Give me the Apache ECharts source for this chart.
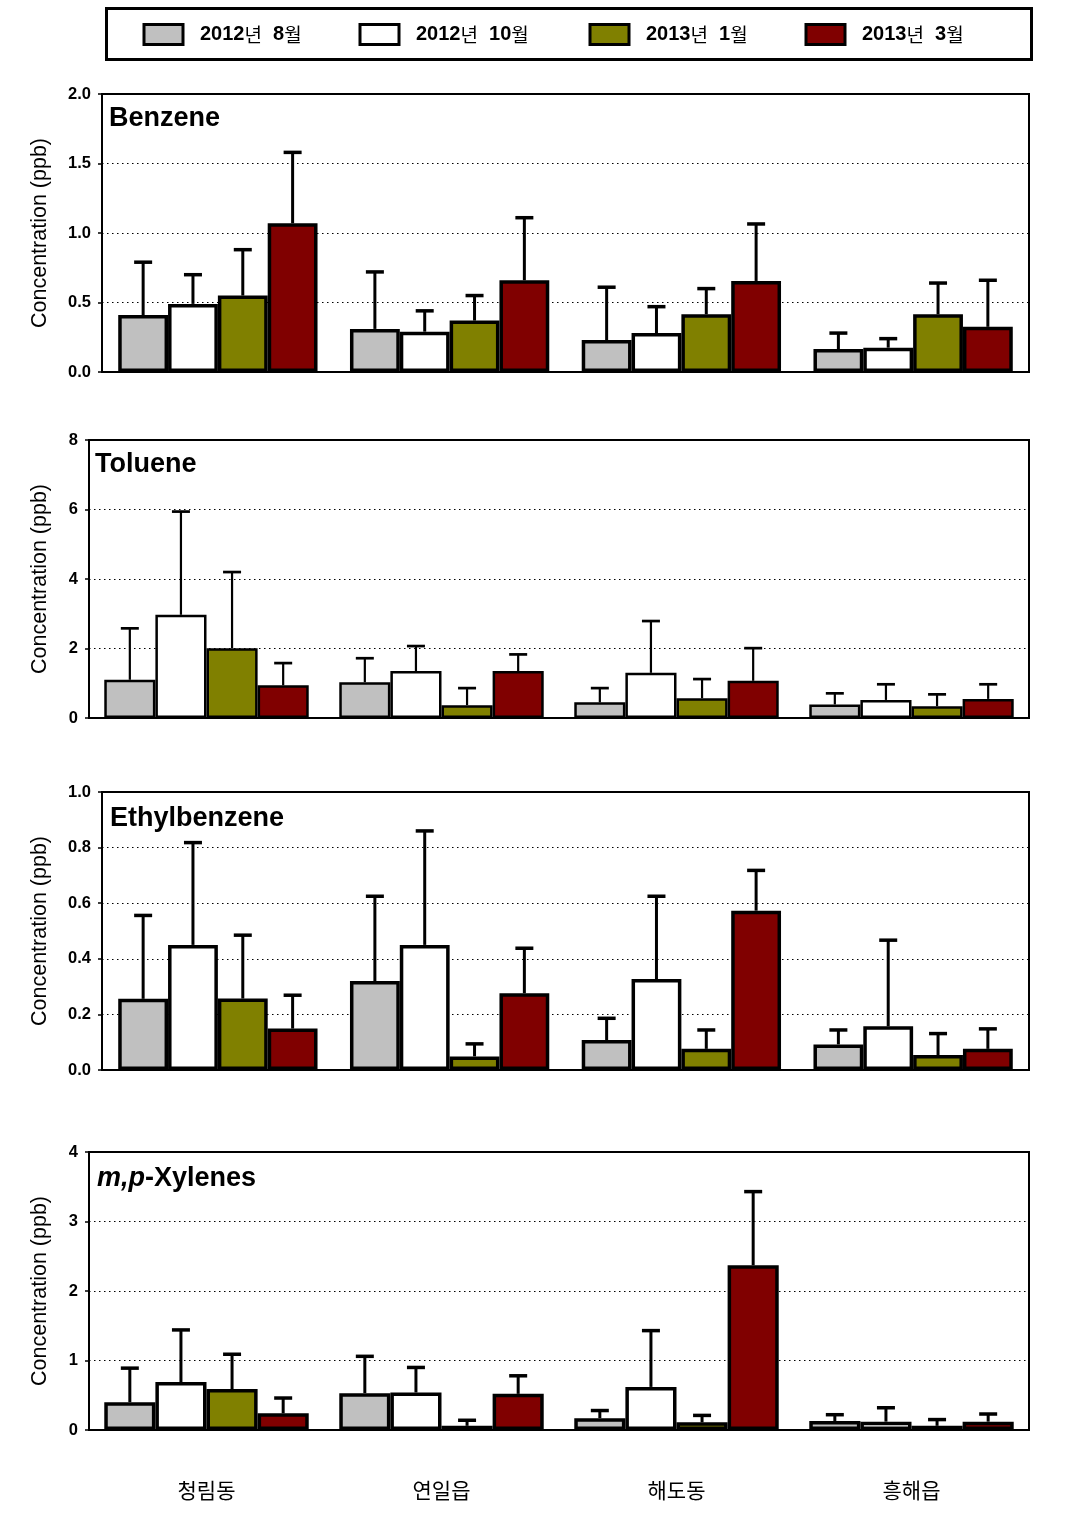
<!DOCTYPE html>
<html>
<head>
<meta charset="utf-8">
<script src="https://cdn.jsdelivr.net/npm/echarts@6/dist/echarts.min.js"></script>
<style>
html,body{margin:0;padding:0;background:#fff;}
#chart{width:1072px;height:1528px;}
</style>
</head>
<body>
<div id="chart"></div>
<script>
// ---------- data ----------
const categories = ['청림동', '연일읍', '해도동', '흥해읍'];
const periods = ['2012년 8월', '2012년 10월', '2013년 1월', '2013년 3월'];
const periodColors = ['#C0C0C0', '#FFFFFF', '#808000', '#800000'];

const panelNames = ['Benzene', 'Toluene', 'Ethylbenzene', 'm,p-Xylenes'];

// means, one array per period (order: 청림동, 연일읍, 해도동, 흥해읍)
const benzeneMean = [
  [0.41, 0.31, 0.23, 0.165],
  [0.49, 0.29, 0.28, 0.175],
  [0.55, 0.37, 0.415, 0.415],
  [1.07, 0.66, 0.655, 0.325]
];
const benzeneUpper = [
  [0.79, 0.72, 0.61, 0.28],
  [0.70, 0.44, 0.47, 0.24],
  [0.88, 0.55, 0.60, 0.64],
  [1.58, 1.11, 1.065, 0.66]
];
const tolueneMean = [
  [1.10, 1.03, 0.45, 0.39],
  [2.97, 1.35, 1.30, 0.52],
  [2.01, 0.37, 0.57, 0.34],
  [0.94, 1.35, 1.07, 0.55]
];
const tolueneUpper = [
  [2.58, 1.72, 0.86, 0.71],
  [5.94, 2.07, 2.79, 0.97],
  [4.20, 0.86, 1.12, 0.68],
  [1.58, 1.83, 2.01, 0.97]
];
const ethylMean = [
  [0.256, 0.32, 0.108, 0.092],
  [0.45, 0.45, 0.327, 0.157],
  [0.257, 0.049, 0.076, 0.054],
  [0.149, 0.276, 0.573, 0.076]
];
const ethylUpper = [
  [0.556, 0.625, 0.186, 0.144],
  [0.818, 0.86, 0.625, 0.467],
  [0.485, 0.094, 0.144, 0.131],
  [0.269, 0.438, 0.718, 0.148]
];
const xyleneMean = [
  [0.40, 0.53, 0.17, 0.13],
  [0.69, 0.54, 0.62, 0.12],
  [0.59, 0.06, 0.11, 0.06],
  [0.24, 0.52, 2.37, 0.12]
];
const xyleneUpper = [
  [0.89, 1.06, 0.28, 0.22],
  [1.44, 0.90, 1.43, 0.32],
  [1.09, 0.14, 0.21, 0.15],
  [0.46, 0.78, 3.43, 0.23]
];

const yMax = [2, 8, 1, 4];
const yInterval = [0.5, 2, 0.2, 1];
const yDecimals = [1, 0, 1, 0];

// ---------- layout / style ----------
const panelMeans = [benzeneMean, tolueneMean, ethylMean, xyleneMean];
const panelUppers = [benzeneUpper, tolueneUpper, ethylUpper, xyleneUpper];
const gridLeft = [102, 89, 102, 89];
const gridTop = [94, 440, 792, 1152];
const gapPct = [14, 13, 14, 13];
const barBorder = [3.5, 2.5, 3.5, 3.5];
const errWidth = [3, 2.2, 3, 3];
const nameGap = [51, 38, 51, 38];
const titlePos = [[109, 105], [95, 451], [110, 805], [97, 1165]];
const legendLeft = [142.5, 358.5, 588.5, 804.5];

const FONT = "'Liberation Sans', Arial, 'Noto Sans CJK KR', sans-serif";
const KFONT = "'Noto Sans CJK KR', sans-serif";

const grids = [], xAxes = [], yAxes = [], series = [], titles = [];

for (let p = 0; p < 4; p++) {
  grids.push({
    left: gridLeft[p], top: gridTop[p], right: 43, height: 278,
    show: true, borderColor: '#000', borderWidth: 2, backgroundColor: 'transparent'
  });
  xAxes.push({
    type: 'category', gridIndex: p, data: categories,
    axisLine: { show: true, lineStyle: { color: '#000', width: 2 } },
    axisTick: { show: false },
    axisLabel: p === 3 ? {
      show: true, margin: 50, color: '#000', fontSize: 21, fontFamily: KFONT
    } : { show: false },
    splitLine: { show: false }
  });
  yAxes.push({
    type: 'value', gridIndex: p, min: 0, max: yMax[p], interval: yInterval[p],
    name: 'Concentration (ppb)', nameLocation: 'middle', nameGap: nameGap[p],
    nameTextStyle: { fontSize: 21.5, fontFamily: FONT, color: '#000' },
    axisLine: { show: true, lineStyle: { color: '#000', width: 2 } },
    axisTick: { show: true, inside: false, length: 4, lineStyle: { color: '#000', width: 1.5 } },
    axisLabel: {
      margin: 11, color: '#000', fontSize: 16.5, fontWeight: 'bold', fontFamily: FONT,
      formatter: (v) => v.toFixed(yDecimals[p])
    },
    splitLine: { show: true, lineStyle: { color: '#000', width: 1, type: [1.5, 3.5] } }
  });
  for (let s = 0; s < 4; s++) {
    series.push({
      type: 'bar', name: periods[s], xAxisIndex: p, yAxisIndex: p,
      data: panelMeans[p][s],
      barGap: '0%', barCategoryGap: gapPct[p] + '%',
      itemStyle: { color: periodColors[s], borderColor: '#000', borderWidth: barBorder[p] },
      emphasis: { disabled: true },
      z: 2
    });
  }
  for (let s = 0; s < 4; s++) {
    const gap = gapPct[p];
    const lw = errWidth[p];
    series.push({
      type: 'custom', xAxisIndex: p, yAxisIndex: p, silent: true, z: 4,
      data: panelMeans[p][s].map((m, i) => [i, m, panelUppers[p][s][i]]),
      encode: { x: 0, y: [1, 2] },
      renderItem: (params, api) => {
        const base = api.coord([api.value(0), api.value(1)]);
        const top = api.coord([api.value(0), api.value(2)]);
        const band = api.size([1, 0])[0];
        const bw = band * (1 - gap / 100) / 4;
        const x = base[0] + (s - 1.5) * bw;
        return {
          type: 'group',
          children: [
            { type: 'line', shape: { x1: x, y1: base[1], x2: x, y2: top[1] },
              style: { stroke: '#000', lineWidth: lw } },
            { type: 'line', shape: { x1: x - 9, y1: top[1], x2: x + 9, y2: top[1] },
              style: { stroke: '#000', lineWidth: lw + 0.5 } }
          ]
        };
      }
    });
  }
  const isXyl = p === 3;
  titles.push({
    text: isXyl ? '{i|m,p}{n|-Xylenes}' : panelNames[p],
    left: titlePos[p][0], top: titlePos[p][1], padding: 0,
    textStyle: {
      fontSize: 27, fontWeight: 'bold', fontFamily: FONT, color: '#000',
      rich: {
        i: { fontSize: 27, fontWeight: 'bold', fontStyle: 'italic', fontFamily: FONT, color: '#000' },
        n: { fontSize: 27, fontWeight: 'bold', fontFamily: FONT, color: '#000' }
      }
    }
  });
}

const legends = periods.map((name, i) => ({
  data: [name], left: legendLeft[i], top: 23, padding: 0,
  icon: 'rect', itemWidth: 39, itemHeight: 20, selectedMode: false,
  itemStyle: { borderColor: '#000', borderWidth: 3 },
  formatter: (n) => {
    const m = n.match(/^(\d+)(년) (\d+)(월)$/);
    return '{b|' + m[1] + '}{k|' + m[2] + '}{b|  ' + m[3] + '}{k|' + m[4] + '}';
  },
  textStyle: {
    padding: [0, 0, 0, 12],
    rich: {
      b: { fontSize: 20, fontWeight: 'bold', fontFamily: FONT, color: '#000' },
      k: { fontSize: 19, fontWeight: 'normal', fontFamily: KFONT, color: '#000' }
    }
  }
}));

const chart = echarts.init(document.getElementById('chart'), null, { renderer: 'canvas' });
chart.setOption({
  animation: false,
  backgroundColor: '#fff',
  title: titles,
  legend: legends,
  grid: grids,
  xAxis: xAxes,
  yAxis: yAxes,
  series: series,
  graphic: [{
    type: 'rect', left: 104, top: 6, z: 0,
    shape: { width: 925, height: 51 },
    style: { fill: 'none', stroke: '#000', lineWidth: 3 }
  }]
});
</script>
</body>
</html>
